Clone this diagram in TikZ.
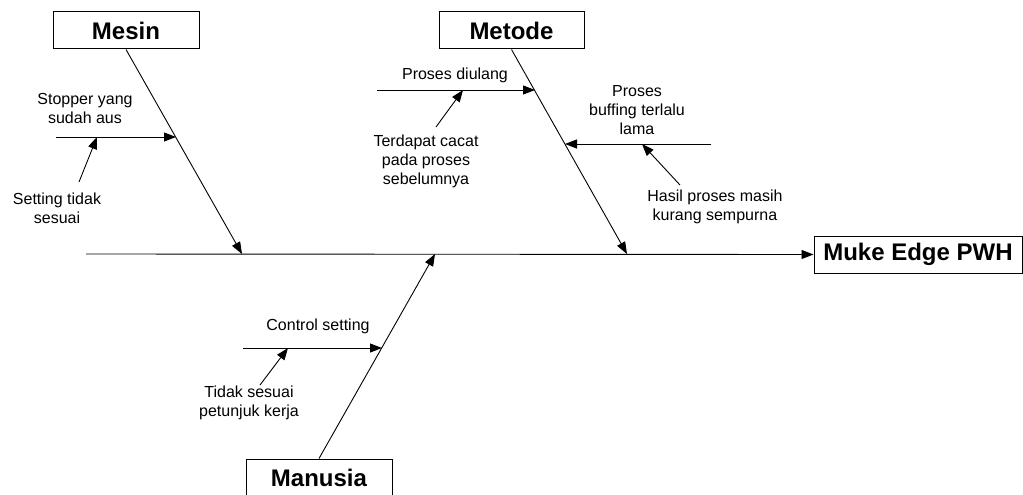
\documentclass[tikz,border=0pt]{standalone}
\usepackage{fontspec}
\setmainfont{Liberation Sans}
\usetikzlibrary{arrows.meta}
\begin{document}
\begin{tikzpicture}[x=1pt,y=-1pt,
  box/.style={draw,line width=1pt,inner sep=0pt,minimum height=37pt,font=\fontsize{24}{28}\selectfont\bfseries},
  lbl/.style={align=center,inner sep=0pt,font=\fontsize{16}{19}\selectfont},
  arr/.style={-{Triangle[length=12pt,width=9pt]},line width=0.9pt},
  ln/.style={line width=0.9pt}]
\useasboundingbox (0,0) rectangle (1023,495);
% category boxes
\node[box,minimum width=146pt] (mesin) at (126,30.5) {Mesin};
\node[box,minimum width=145pt] (metode) at (511.5,30.5) {Metode};
\node[box,minimum width=146pt] (manusia) at (319,477.5) {Manusia};
\node[box,minimum width=208pt] (muke) at (918,254.5) {Muke Edge PWH};
% spine
\coordinate (s0) at (86,254);
\coordinate (b1) at (242,254);
\coordinate (b2) at (627,254);
\coordinate (b3) at (435,254);
\draw[arr] (s0) -- (muke.west);
\draw[arr] (mesin.south) -- (b1);
\draw[arr] (metode.south) -- (b2);
\draw[arr] (manusia.north) -- (b3);
% Mesin causes
\coordinate (c1s) at (56,137);
\coordinate (c1e) at (176,137);
\coordinate (c1a) at (79,182);
\coordinate (c1t) at (97,137);
\draw[arr] (c1s) -- (c1e);
\draw[arr] (c1a) -- (c1t);
\node[lbl] (stopper) at (85,108.5) {Stopper yang\\sudah aus};
\node[lbl] (setting) at (57,208.5) {Setting tidak\\sesuai};
% Metode causes
\coordinate (c2s) at (377,90);
\coordinate (c2e) at (535,90);
\coordinate (c2a) at (436,127);
\coordinate (c2t) at (463,90);
\draw[arr] (c2s) -- (c2e);
\draw[arr] (c2a) -- (c2t);
\node[lbl] (diulang) at (455,75) {Proses diulang};
\node[lbl] (terdapat) at (426,161) {Terdapat cacat\\pada proses\\sebelumnya};
\coordinate (c3s) at (711,144);
\coordinate (c3e) at (565,144);
\coordinate (c3a) at (680,185);
\coordinate (c3t) at (642,144);
\draw[arr] (c3s) -- (c3e);
\draw[arr] (c3a) -- (c3t);
\node[lbl] (buffing) at (637,110.5) {Proses\\buffing terlalu\\lama};
\node[lbl] (hasil) at (715,206.5) {Hasil proses masih\\kurang sempurna};
% Manusia causes
\coordinate (c4s) at (243,348);
\coordinate (c4e) at (382,348);
\coordinate (c4a) at (260,385);
\coordinate (c4t) at (288,348);
\draw[arr] (c4s) -- (c4e);
\draw[arr] (c4a) -- (c4t);
\node[lbl] (control) at (318,326) {Control setting};
\node[lbl] (tidak) at (249,402.5) {Tidak sesuai\\petunjuk kerja};
\end{tikzpicture}
\end{document}
